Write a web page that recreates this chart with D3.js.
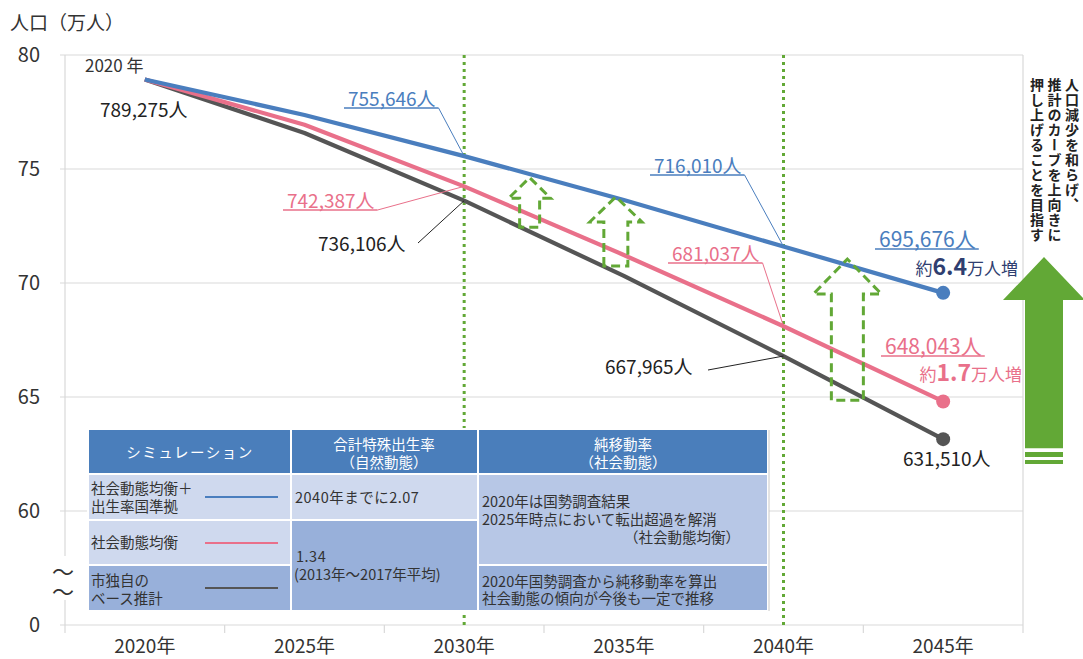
<!DOCTYPE html>
<html>
<head>
<meta charset="utf-8">
<script src="https://cdn.jsdelivr.net/npm/d3@7"></script>
<style>
  html, body { margin: 0; padding: 0; background: #fff; }
  svg text { font-family: "Noto Sans CJK JP", "Noto Sans", sans-serif; }
</style>
</head>
<body>
<script>
'use strict';

// data (万人)
const years = ['2020年', '2025年', '2030年', '2035年', '2040年', '2045年'];
const blueVals = [78.9275, 77.37, 75.5646, 73.64, 71.6010, 69.5676];
const pinkVals = [78.9275, 76.94, 74.2387, 71.23, 68.1037, 64.8043];
const grayVals = [78.9275, 76.58, 73.6106, 70.31, 66.7965, 63.1510];
const yTicks = [0, 60, 65, 70, 75, 80];
const markerYears = ['2030年', '2040年'];

const blue = '#4a7ebe';
const pink = '#e9708a';
const gray = '#555555';
const green = '#62a836';

(function() {
  const W = 1083, H = 659;
  const left = 65, right = 1023, top = 55, bottom = 625;

  const svg = d3.select('body').append('svg')
    .attr('width', W).attr('height', H);

  const x = d3.scaleBand().domain(years).range([left, right]);
  const cx = (d) => x(d) + x.bandwidth() / 2;
  // broken axis: 0 sits one step below 60
  const y = d3.scaleLinear().domain([0, 60, 80]).range([bottom, 511, top]);

  // gridlines + frame
  svg.append('g').selectAll('line')
    .data(yTicks)
    .enter().append('line')
      .attr('x1', left - 5).attr('x2', right)
      .attr('y1', (d) => y(d)).attr('y2', (d) => y(d))
      .attr('stroke', '#d9d9d9').attr('stroke-width', 1.2);
  svg.append('line')
    .attr('x1', right).attr('x2', right).attr('y1', top).attr('y2', bottom)
    .attr('stroke', '#d9d9d9').attr('stroke-width', 1.2);
  svg.append('line')
    .attr('x1', left).attr('x2', left).attr('y1', top).attr('y2', bottom)
    .attr('stroke', '#d9d9d9').attr('stroke-width', 1.2);

  // x ticks at band edges
  const edges = years.map((d) => x(d)).concat([right]);
  svg.append('g').selectAll('line')
    .data(edges)
    .enter().append('line')
      .attr('x1', (d) => d).attr('x2', (d) => d)
      .attr('y1', bottom).attr('y2', bottom + 8)
      .attr('stroke', '#d9d9d9').attr('stroke-width', 1.2);

  svg.append('g').selectAll('text')
    .data(years)
    .enter().append('text')
      .attr('x', cx).attr('y', 653)
      .attr('text-anchor', 'middle')
      .style('font-size', '19px').attr('fill', '#333')
      .text((d) => d);

  svg.append('g').selectAll('text')
    .data(yTicks)
    .enter().append('text')
      .attr('x', 40).attr('y', (d) => y(d) + 7)
      .attr('text-anchor', 'end')
      .style('font-size', '20px').attr('fill', '#333')
      .text((d) => d);

  svg.append('text')
    .attr('x', 10).attr('y', 30)
    .style('font-size', '19px').attr('fill', '#333')
    .text('人口（万人）');

  // axis break
  svg.append('rect').attr('x', 55).attr('y', 556).attr('width', 20).attr('height', 44).attr('fill', '#fff');
  [572, 592].forEach((yy) => {
    svg.append('text').attr('x', 63).attr('y', yy + 8)
      .attr('text-anchor', 'middle').style('font-size', '22px').attr('fill', '#333')
      .text('〜');
  });

  // dotted markers
  svg.append('g').selectAll('line')
    .data(markerYears)
    .enter().append('line')
      .attr('x1', cx).attr('x2', cx)
      .attr('y1', top).attr('y2', bottom)
      .attr('stroke', green).attr('stroke-width', 3)
      .attr('stroke-dasharray', '3,4');

  // series lines
  const line = d3.line().x((d, i) => cx(years[i])).y((d) => y(d));
  [[grayVals, gray], [pinkVals, pink], [blueVals, blue]].forEach(([vals, col]) => {
    svg.append('path').datum(vals)
      .attr('d', line).attr('fill', 'none')
      .attr('stroke', col).attr('stroke-width', 4.2)
      .attr('stroke-linejoin', 'round');
    svg.append('circle')
      .attr('cx', cx(years[5])).attr('cy', y(vals[5])).attr('r', 7)
      .attr('fill', col);
  });

  // dashed hollow arrows (year position, tip value, base value)
  const yearX = d3.scaleLinear().domain([2020, 2045]).range([cx(years[0]), cx(years[5])]);
  function arrowPath(px, tip, head, base, hw, sw) {
    const p = d3.path();
    p.moveTo(px - sw, base);
    p.lineTo(px - sw, head);
    p.lineTo(px - hw, head);
    p.lineTo(px, tip);
    p.lineTo(px + hw, head);
    p.lineTo(px + sw, head);
    p.lineTo(px + sw, base);
    p.closePath();
    return p.toString();
  }
  const dashedArrows = [
    {yr: 2032.05, tip: 74.62, head: 73.72, base: 72.45, hw: 21, sw: 10},
    {yr: 2034.75, tip: 73.78, head: 72.68, base: 70.75, hw: 26, sw: 12},
    {yr: 2042.0, tip: 71.05, head: 69.52, base: 64.86, hw: 34, sw: 16}
  ];
  svg.append('g').selectAll('path')
    .data(dashedArrows)
    .enter().append('path')
      .attr('d', (d) => arrowPath(yearX(d.yr), y(d.tip), y(d.head), y(d.base), d.hw, d.sw))
      .attr('fill', 'none').attr('stroke', green).attr('stroke-width', 3)
      .attr('stroke-dasharray', '9,5').attr('stroke-linejoin', 'miter');

  // big solid arrow on the right
  svg.append('path')
    .attr('d', arrowPath(1044, y(71.14), y(69.25), y(62.75), 41, 19))
    .attr('fill', green);
  [[452, 5], [460, 4]].forEach(([yy, h]) => {
    svg.append('rect').attr('x', 1025).attr('y', yy).attr('width', 38).attr('height', h).attr('fill', green);
  });

  // vertical message
  const msg = ['人口減少を和らげ、', '推計のカーブを上向きに', '押し上げることを目指す'];
  svg.append('g').selectAll('text')
    .data(msg)
    .enter().append('text')
      .attr('x', (d, i) => 1072 - i * 17.5).attr('y', 78)
      .style('writing-mode', 'vertical-rl')
      .style('font-size', '14px').style('font-weight', 'bold')
      .style('letter-spacing', '1px')
      .attr('fill', '#222')
      .text((d) => d);

  // value labels with leaders
  function label(txt, tx, ty, col, size, under, leaderFrom, leaderTo) {
    const t = svg.append('text').attr('x', tx).attr('y', ty)
      .style('font-size', size + 'px').attr('fill', col).text(txt);
    const w = t.node().getComputedTextLength();
    if (under) {
      svg.append('line').attr('x1', tx - 4).attr('x2', tx + w + 3)
        .attr('y1', ty + 2).attr('y2', ty + 2)
        .attr('stroke', col).attr('stroke-width', 1.5);
    }
    if (leaderTo) {
      const from = leaderFrom || [tx + w + 3, ty + 2];
      svg.append('line').attr('x1', from[0]).attr('y1', from[1])
        .attr('x2', leaderTo[0]).attr('y2', leaderTo[1])
        .attr('stroke', col).attr('stroke-width', 1);
    }
  }

  label('2020 年', 85, 72, '#333', 17, false);
  label('789,275人', 100, 117, '#222', 19, false);
  label('755,646人', 348, 106, blue, 19, true, null, [cx(years[2]), y(blueVals[2])]);
  label('742,387人', 287, 208, pink, 19, true, null, [cx(years[2]), y(pinkVals[2])]);
  label('736,106人', 318, 251, '#222', 19, false, [418, 243], [cx(years[2]), y(grayVals[2])]);
  label('716,010人', 654, 173, blue, 19, true, null, [cx(years[4]), y(blueVals[4])]);
  label('681,037人', 672, 261, pink, 19, true, null, [cx(years[4]), y(pinkVals[4])]);
  label('667,965人', 605, 374, '#222', 19, false, [708, 370], [cx(years[4]), y(grayVals[4])]);
  label('695,676人', 879, 247, blue, 21, true);
  label('648,043人', 885, 354, pink, 21, true);
  label('631,510人', 903, 466, '#222', 19, false);

  function gain(txt, tx, ty, col) {
    const t = svg.append('text').attr('x', tx).attr('y', ty)
      .attr('text-anchor', 'end').attr('fill', col);
    t.append('tspan').style('font-size', '17px').text('約');
    t.append('tspan').style('font-size', '23px').style('font-weight', 'bold').text(txt);
    t.append('tspan').style('font-size', '17px').text('万人増');
  }
  gain('6.4', 1018, 275, '#2f3e70');
  gain('1.7', 1022, 381, pink);

  // table
  const colX = [88, 291, 478, 768];
  const rowY = [429, 474, 520, 565, 611];
  const light = '#cfd9ee', mid = '#b7c7e6', dark = '#98b0da', head = '#4a7ebb';
  const cells = [
    [0, 0, 1, 1, head], [1, 0, 1, 1, head], [2, 0, 1, 1, head],
    [0, 1, 1, 1, light], [0, 2, 1, 1, light], [0, 3, 1, 1, dark],
    [1, 1, 1, 1, light], [1, 2, 1, 2, dark],
    [2, 1, 1, 2, mid], [2, 3, 1, 1, dark]
  ];
  svg.append('g').selectAll('rect')
    .data(cells)
    .enter().append('rect')
      .attr('x', (d) => colX[d[0]])
      .attr('y', (d) => rowY[d[1]])
      .attr('width', (d) => colX[d[0] + d[2]] - colX[d[0]])
      .attr('height', (d) => rowY[d[1] + d[3]] - rowY[d[1]])
      .attr('fill', (d) => d[4])
      .attr('stroke', '#fff').attr('stroke-width', 2);
  svg.append('line').attr('x1', 769).attr('x2', 769).attr('y1', 430).attr('y2', 611)
    .attr('stroke', '#c8c8c8').attr('stroke-width', 1);

  function tline(txt, tx, ty, anchor, col, sp) {
    svg.append('text').attr('x', tx).attr('y', ty)
      .attr('text-anchor', anchor || 'start')
      .style('font-size', '14.5px').attr('fill', col || '#333')
      .style('letter-spacing', (sp || 0) + 'px')
      .text(txt);
  }
  tline('シミュレーション', 190, 458, 'middle', '#fff', 1.5);
  tline('合計特殊出生率', 384, 450, 'middle', '#fff');
  tline('（自然動態）', 384, 468, 'middle', '#fff');
  tline('純移動率', 623, 450, 'middle', '#fff');
  tline('（社会動態）', 623, 468, 'middle', '#fff');

  tline('社会動態均衡＋', 91, 494);
  tline('出生率国準拠', 91, 512);
  tline('社会動態均衡', 91, 548);
  tline('市独自の', 91, 586);
  tline('ベース推計', 91, 604);

  const legendLines = [[blue, 497], [pink, 543], [gray, 588]];
  legendLines.forEach(([col, yy]) => {
    svg.append('line').attr('x1', 205).attr('x2', 278).attr('y1', yy).attr('y2', yy)
      .attr('stroke', col).attr('stroke-width', 2);
  });

  tline('2040年までに2.07', 295, 503, 'start', '#333', 0.5);
  tline('1.34', 296, 562, 'start', '#333', 0.5);
  tline('(2013年～2017年平均)', 294, 580);

  tline('2020年は国勢調査結果', 482, 507);
  tline('2025年時点において転出超過を解消', 482, 525);
  tline('（社会動態均衡）', 740, 543, 'end');
  tline('2020年国勢調査から純移動率を算出', 482, 587);
  tline('社会動態の傾向が今後も一定で推移', 482, 604);
})();
</script>
</body>
</html>
